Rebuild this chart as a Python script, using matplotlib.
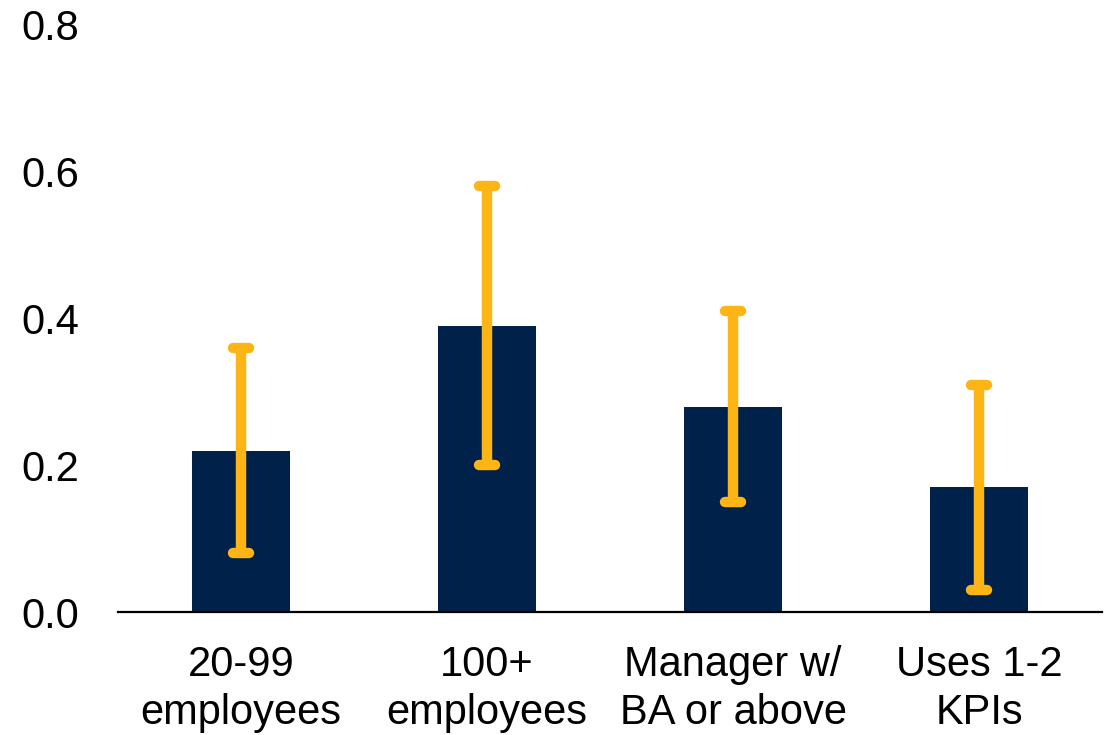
import matplotlib
matplotlib.use("Agg")
import matplotlib.pyplot as plt
from matplotlib.markers import MarkerStyle
import numpy as np

categories = ["20-99\nemployees", "100+\nemployees", "Manager w/\nBA or above", "Uses 1-2\nKPIs"]
values = [0.22, 0.39, 0.28, 0.17]
ci_low = [0.08, 0.20, 0.15, 0.03]
ci_high = [0.36, 0.58, 0.41, 0.31]
yticks = [0.0, 0.2, 0.4, 0.6, 0.8]

plt.rcParams['font.family'] = ['Liberation Sans', 'DejaVu Sans']

fig = plt.figure(figsize=(11.12, 7.35), dpi=100)
ax = fig.add_axes([118/1112, 1-612/735, (1102-118)/1112, (612-25)/735])

x = np.arange(len(categories))
vals = np.array(values)
lo = np.array(ci_low)
hi = np.array(ci_high)

ax.bar(x, vals, width=0.4, color="#00224A", zorder=2)
eb = ax.errorbar(x, vals, yerr=[vals - lo, hi - vals], fmt='none',
                 ecolor="#FDB515", elinewidth=7.5, capsize=5.5, capthick=7.5, zorder=3)
for cl in eb[1]:
    cl.set_marker(MarkerStyle('_', capstyle='round'))
for lc in eb[2]:
    lc.set_capstyle('butt')

ax.set_xlim(-0.5, len(categories) - 0.5)
ax.set_ylim(0, 0.8)
ax.set_yticks(yticks)
ax.set_yticklabels([f"{t:.1f}" for t in yticks])
ax.set_xticks(x)
ax.set_xticklabels(categories, linespacing=1.25)

for s in ['top', 'right', 'left']:
    ax.spines[s].set_visible(False)
ax.spines['bottom'].set_linewidth(1.6)
ax.spines['bottom'].set_color('black')

ax.tick_params(axis='y', length=0, pad=28, labelsize=30)
ax.tick_params(axis='x', length=0, pad=24, labelsize=30)

fig.savefig("out.png", dpi=100)
